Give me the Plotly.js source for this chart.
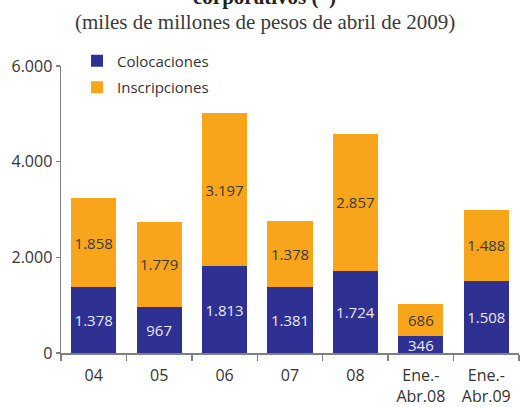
<!DOCTYPE html>
<html>
<head>
<meta charset="utf-8">
<script src="https://cdn.plot.ly/plotly-3.0.1.min.js"></script>
<style>
  html, body { margin: 0; padding: 0; background: #ffffff; }
  #chart { width: 520px; height: 407px; }
</style>
</head>
<body>
<div id="chart"></div>
<script>
const categories = ['04', '05', '06', '07', '08', 'Ene.-<br>Abr.08', 'Ene.-<br>Abr.09'];
const colocaciones = [1378, 967, 1813, 1381, 1724, 346, 1508];
const inscripciones = [1858, 1779, 3197, 1378, 2857, 686, 1488];
const seriesNames = ['Colocaciones', 'Inscripciones'];
const yTicks = [0, 2000, 4000, 6000];

const BLUE = '#2e3192';
const ORANGE = '#f8a51b';
const SANS = '"Open Sans", "Noto Sans", sans-serif';
const SERIF = '"Liberation Serif", "DejaVu Serif", serif';

const common = {
  type: 'bar',
  x: categories,
  textposition: 'inside',
  insidetextanchor: 'middle',
  textangle: 0,
  constraintext: 'none',
  texttemplate: '%{y:,}',
  hoverinfo: 'skip'
};

const traces = [
  Object.assign({}, common, {
    name: seriesNames[0],
    legendgroup: 'a',
    y: colocaciones,
    marker: { color: BLUE, line: { width: 0 } },
    insidetextfont: { family: SANS, size: 15, color: '#e8e8f4' }
  }),
  Object.assign({}, common, {
    name: seriesNames[1],
    legendgroup: 'b',
    y: inscripciones,
    marker: { color: ORANGE, line: { width: 0 } },
    insidetextfont: { family: SANS, size: 15, color: '#3a3a3a' }
  })
];

const layout = {
  width: 520,
  height: 407,
  margin: { l: 61, r: 1, t: 66, b: 54, pad: 0 },
  paper_bgcolor: '#ffffff',
  plot_bgcolor: '#ffffff',
  barmode: 'stack',
  bargap: 0.31,
  separators: ',.',
  showlegend: true,
  legend: {
    x: 0.035, y: 1.075, xanchor: 'left', yanchor: 'top',
    bgcolor: 'rgba(0,0,0,0)',
    traceorder: 'grouped',
    tracegroupgap: 4,
    font: { family: SANS, size: 15, color: '#333333' }
  },
  xaxis: {
    type: 'category',
    tickson: 'boundaries',
    ticks: 'outside',
    ticklen: 6,
    tickwidth: 1.5,
    tickcolor: '#808080',
    ticklabelstandoff: 7,
    showline: true,
    linecolor: '#808080',
    linewidth: 1.5,
    showgrid: false,
    zeroline: false,
    tickfont: { family: SANS, size: 16, color: '#333333' }
  },
  yaxis: {
    range: [0, 6000],
    tickvals: yTicks,
    tickformat: ',',
    ticks: 'outside',
    ticklen: 4,
    tickwidth: 1.5,
    tickcolor: '#808080',
    showline: true,
    linecolor: '#808080',
    linewidth: 1.5,
    showgrid: false,
    zeroline: false,
    tickfont: { family: SANS, size: 16, color: '#333333' }
  },
  annotations: [
    {
      text: '<b>corporativos (*)</b>',
      xref: 'paper', yref: 'paper', x: 0.445, y: 1.24,
      xanchor: 'center', yanchor: 'middle', showarrow: false,
      font: { family: SERIF, size: 21, color: '#222222' }
    },
    {
      text: '(miles de millones de pesos de abril de 2009)',
      xref: 'paper', yref: 'paper', x: 0.445, y: 1.153,
      xanchor: 'center', yanchor: 'middle', showarrow: false,
      font: { family: SERIF, size: 21, color: '#3a3a3a' }
    }
  ]
};

Plotly.newPlot('chart', traces, layout, { displayModeBar: false, staticPlot: true });
</script>
</body>
</html>
